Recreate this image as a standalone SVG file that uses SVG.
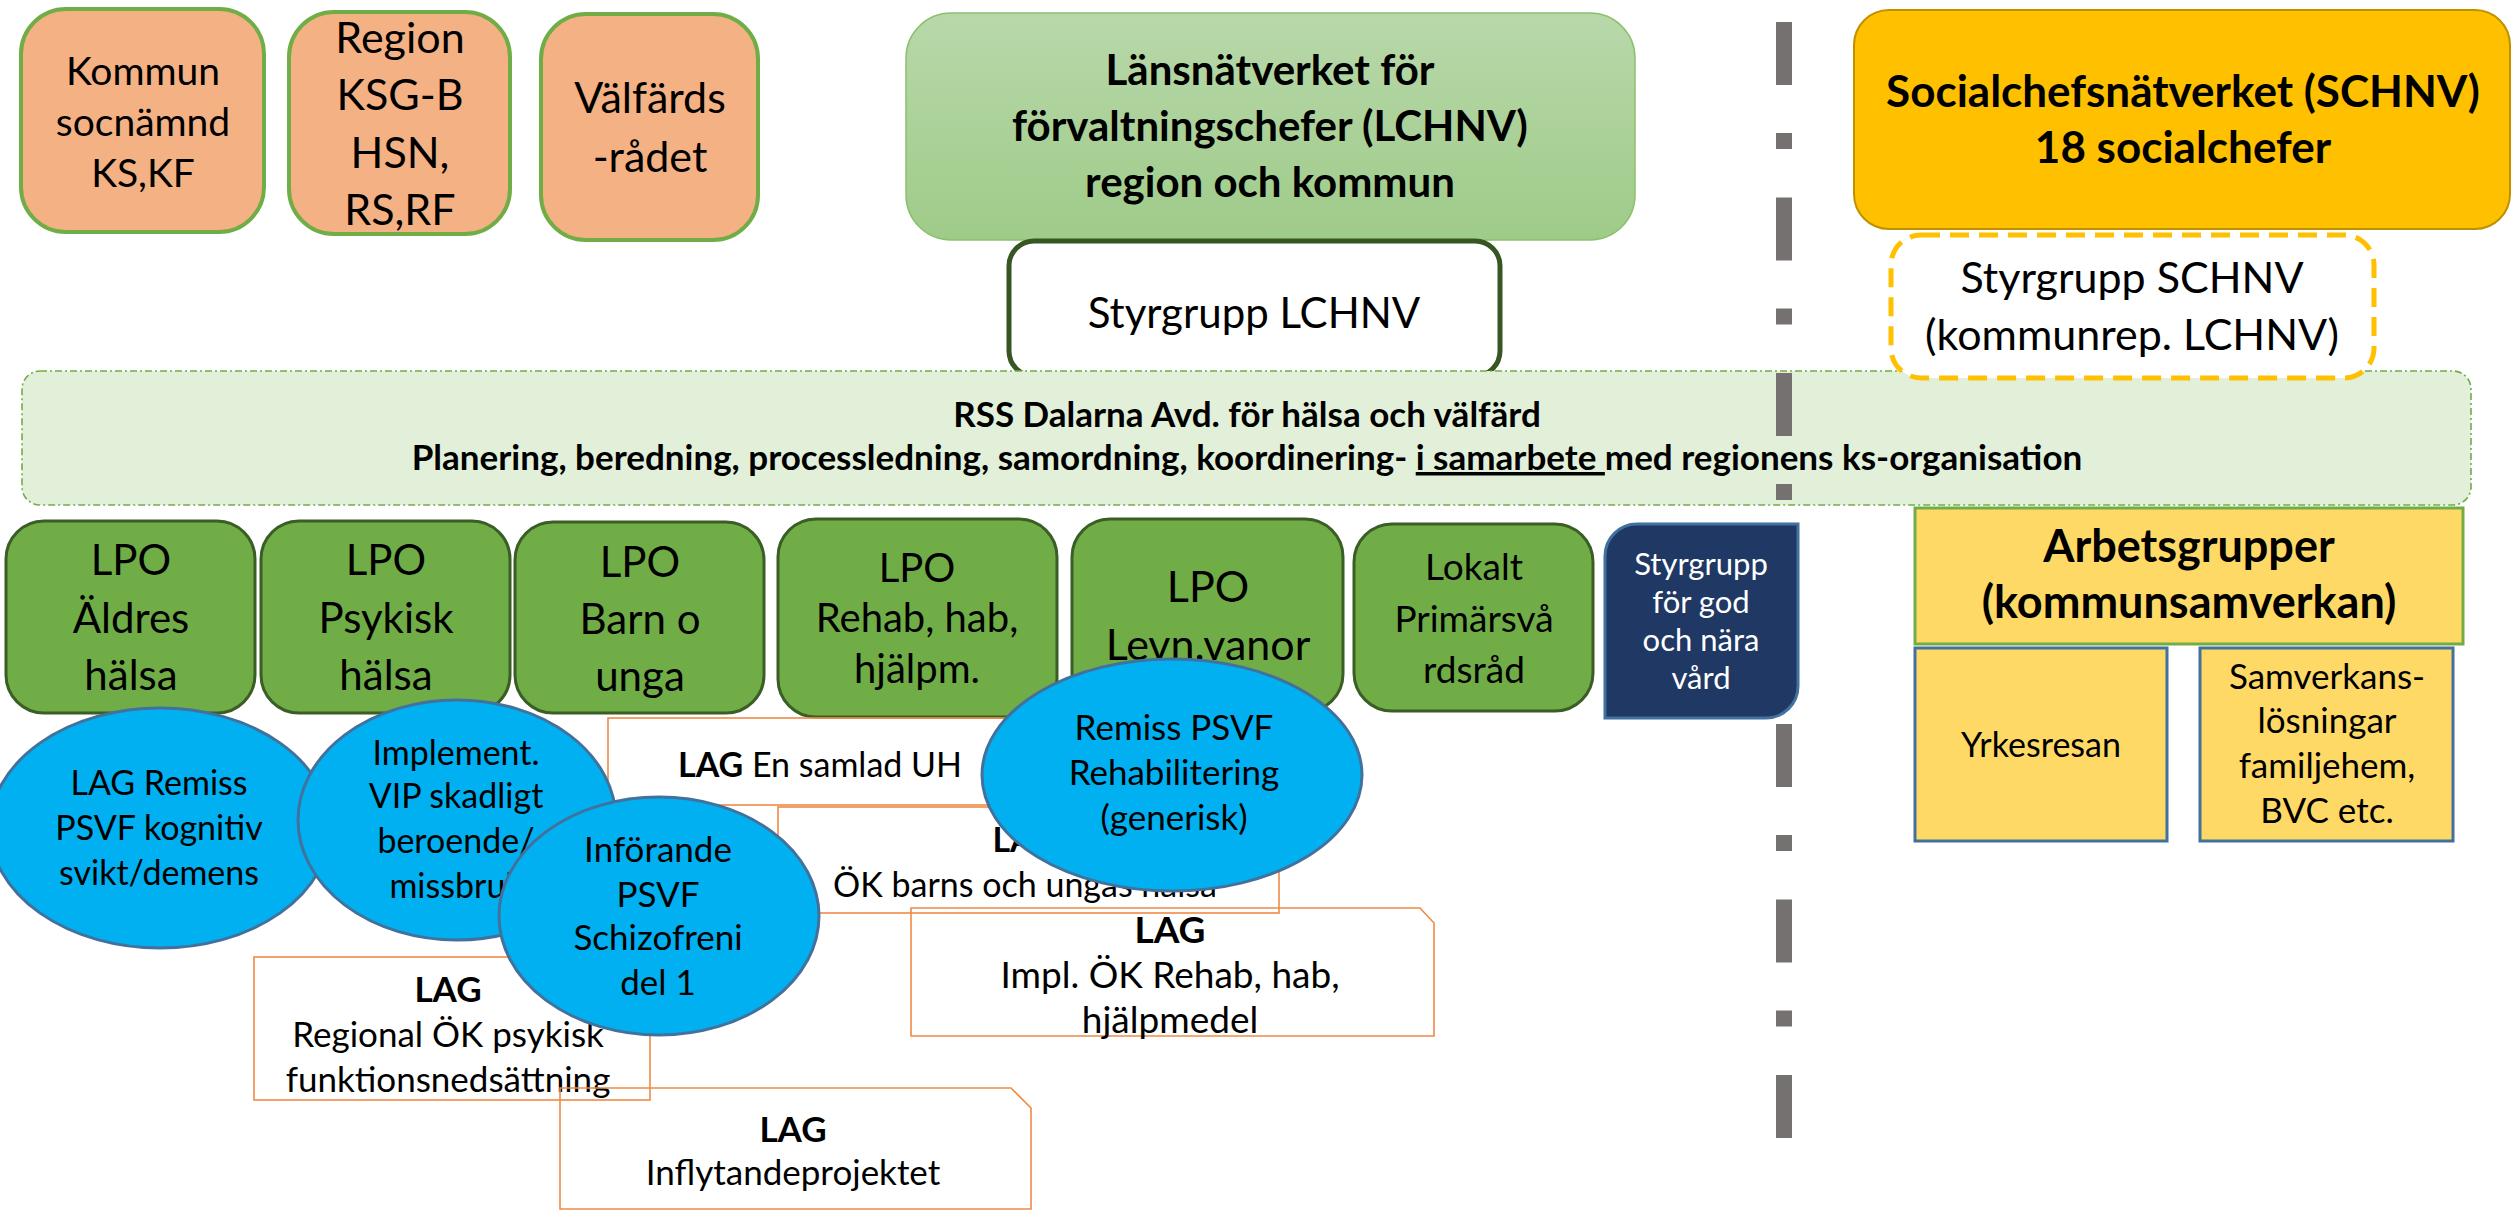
<svg xmlns="http://www.w3.org/2000/svg" width="2511" height="1215" viewBox="0 0 2511 1215">
<defs>
<linearGradient id="gLan" x1="0" y1="0" x2="0" y2="1">
<stop offset="0" stop-color="#B8D8AA"/>
<stop offset="1" stop-color="#9FCB89"/>
</linearGradient>
<style>
text{font-family:Lato,"Liberation Sans",sans-serif;fill:#000;text-anchor:middle}
.b{font-weight:bold}
.peach{fill:#F4B183;stroke:#70AD47;stroke-width:4}
.lpo{fill:#70AD47;stroke:#3A5E26;stroke-width:3}
.ell{fill:#00B0F0;stroke:#41719C;stroke-width:3}
.lag{fill:none;stroke:#F08A45;stroke-width:1.6}
.yel{fill:#FFD966;stroke-width:3}
.t43{font-size:43px}
.t42{font-size:42px}
.t40{font-size:40px}
.t37{font-size:37px}
.t34{font-size:34px}
.t35{font-size:35px}
.t31{font-size:31px}
</style>
</defs>
<rect width="2511" height="1215" fill="#fff"/>

<g id="kommun">
<rect class="peach" x="21" y="9" width="243" height="223" rx="45"/>
<text font-size="39" x="143" y="85">Kommun</text>
<text font-size="39" x="143" y="136">socnämnd</text>
<text font-size="39" x="143" y="187">KS,KF</text>
</g>
<g id="region">
<rect class="peach" x="289" y="12" width="221" height="222" rx="45"/>
<text class="t43" x="400" y="53">Region</text>
<text class="t43" x="400" y="110">KSG-B</text>
<text class="t43" x="400" y="168">HSN,</text>
<text class="t43" x="400" y="225">RS,RF</text>
</g>
<g id="valfardsradet">
<rect class="peach" x="541" y="14" width="217" height="226" rx="45"/>
<text class="t43" x="650" y="113">Välfärds</text>
<text class="t43" x="650" y="172">-rådet</text>
</g>

<g id="lchnv">
<rect x="906" y="13" width="729" height="227" rx="45" fill="url(#gLan)" stroke="#8DC06C" stroke-width="1.5"/>
<text class="b" x="1270" y="85" font-size="42">Länsnätverket för</text>
<text class="b" x="1270" y="141" font-size="42">förvaltningschefer (LCHNV)</text>
<text class="b" x="1270" y="197" font-size="42">region och kommun</text>
</g>
<g id="styrgrupp-lchnv">
<rect x="1009" y="241" width="491" height="135" rx="25" fill="#fff" stroke="#375623" stroke-width="5"/>
<text class="t42" x="1254" y="328">Styrgrupp LCHNV</text>
</g>

<g id="schnv">
<rect x="1854" y="10" width="656" height="219" rx="35" fill="#FFC000" stroke="#BF9000" stroke-width="2"/>
<text class="b" x="2183" y="107" font-size="44">Socialchefsnätverket (SCHNV)</text>
<text class="b" x="2183" y="163" font-size="44">18 socialchefer</text>
</g>

<g id="rss">
<rect x="22" y="371" width="2449" height="134" rx="18" fill="#E2F0D9" stroke="#70AD47" stroke-width="1.6" stroke-dasharray="7 3 2 3"/>
<text class="b" x="1247" y="427" font-size="35">RSS Dalarna Avd. för hälsa och välfärd</text>
<text class="b" x="1247" y="470" font-size="35">Planering, beredning, processledning, samordning, koordinering- <tspan text-decoration="underline">i samarbete </tspan>med regionens ks-organisation</text>
</g>

<g id="styrgrupp-schnv">
<rect x="1891" y="235" width="483" height="143" rx="30" fill="#fff" stroke="#FFC000" stroke-width="5" stroke-dasharray="19 10"/>
<text class="t43" x="2132" y="293">Styrgrupp SCHNV</text>
<text class="t43" x="2132" y="350">(kommunrep. LCHNV)</text>
</g>

<g id="divider">
<line x1="1784" y1="22" x2="1784" y2="1141" stroke="#767171" stroke-width="16" stroke-dasharray="63 48 16 48.5"/>
</g>

<g id="lpo-aldres">
<rect class="lpo" x="6" y="521" width="249" height="192" rx="38"/>
<text class="t42" x="131" y="575">LPO</text>
<text class="t42" x="131" y="633">Äldres</text>
<text class="t42" x="131" y="690">hälsa</text>
</g>
<g id="lpo-psykisk">
<rect class="lpo" x="261" y="521" width="249" height="192" rx="38"/>
<text class="t42" x="386" y="575">LPO</text>
<text class="t42" x="386" y="633">Psykisk</text>
<text class="t42" x="386" y="690">hälsa</text>
</g>
<g id="lpo-barn">
<rect class="lpo" x="515" y="522" width="249" height="191" rx="38"/>
<text class="t42" x="640" y="577">LPO</text>
<text class="t42" x="640" y="634">Barn o</text>
<text class="t42" x="640" y="691">unga</text>
</g>
<g id="lpo-rehab">
<rect class="lpo" x="778" y="519" width="279" height="198" rx="38"/>
<text class="t40" x="917" y="582">LPO</text>
<text class="t40" x="917" y="632">Rehab, hab,</text>
<text class="t40" x="917" y="683">hjälpm.</text>
</g>
<g id="lpo-levnadsvanor">
<rect class="lpo" x="1072" y="519" width="271" height="193" rx="38"/>
<text font-size="43" x="1208" y="602">LPO</text>
<text font-size="43" x="1208" y="660">Levn.vanor</text>
</g>
<g id="lokalt-primarvardsrad">
<rect class="lpo" x="1354" y="524" width="239" height="187" rx="38"/>
<text class="t37" x="1474" y="580">Lokalt</text>
<text class="t37" x="1474" y="632">Primärsvå</text>
<text class="t37" x="1474" y="683">rdsråd</text>
</g>
<g id="styrgrupp-god-nara-vard">
<path d="M1605,718 L1605,556 A32,32 0 0 1 1637,524 L1798,524 L1798,686 A32,32 0 0 1 1766,718 Z" fill="#203864" stroke="#41719C" stroke-width="3"/>
<text class="t31" x="1701" y="575" style="fill:#fff">Styrgrupp</text>
<text class="t31" x="1701" y="613" style="fill:#fff">för god</text>
<text class="t31" x="1701" y="651" style="fill:#fff">och nära</text>
<text class="t31" x="1701" y="689" style="fill:#fff">vård</text>
</g>

<g id="arbetsgrupper">
<rect class="yel" x="1915" y="508" width="548" height="136" stroke="#70AD47"/>
<text class="b" x="2189" y="562" font-size="45">Arbetsgrupper</text>
<text class="b" x="2189" y="618" font-size="45">(kommunsamverkan)</text>
</g>
<g id="yrkesresan">
<rect class="yel" x="1915" y="648" width="252" height="193" stroke="#41719C"/>
<text class="t34" x="2041" y="757">Yrkesresan</text>
</g>
<g id="samverkanslosningar">
<rect class="yel" x="2200" y="648" width="253" height="193" stroke="#41719C"/>
<text class="t35" x="2327" y="689">Samverkans-</text>
<text class="t35" x="2327" y="733">lösningar</text>
<text class="t35" x="2327" y="778">familjehem,</text>
<text class="t35" x="2327" y="823">BVC etc.</text>
</g>

<g id="lag-samlad-uh">
<rect class="lag" x="608" y="718" width="424" height="87"/>
<text class="t34" x="820" y="777"><tspan class="b">LAG</tspan> En samlad UH</text>
</g>
<g id="lag-ok-barn">
<rect class="lag" x="778" y="807" width="501" height="106"/>
<text class="t34 b" x="1025" y="852">LAG</text>
<text class="t34" x="1025" y="897">ÖK barns och ungas hälsa</text>
</g>
<g id="lag-impl-ok-rehab">
<path class="lag" d="M911,908 L1420,908 L1434,923 L1434,1036 L911,1036 Z"/>
<text font-size="37" class="b" x="1170" y="943">LAG</text>
<text font-size="37" x="1170" y="988">Impl. ÖK Rehab, hab,</text>
<text font-size="37" x="1170" y="1033">hjälpmedel</text>
</g>
<g id="lag-regional-ok">
<rect class="lag" x="254" y="957" width="396" height="143"/>
<text class="t35 b" x="448" y="1002">LAG</text>
<text class="t35" x="448" y="1047">Regional ÖK psykisk</text>
<text class="t35" x="448" y="1092">funktionsnedsättning</text>
</g>
<g id="lag-inflytande">
<path class="lag" d="M560,1088 L1011,1088 L1031,1108 L1031,1209 L560,1209 Z"/>
<text class="t35 b" x="793" y="1142">LAG</text>
<text class="t35" x="793" y="1185">Inflytandeprojektet</text>
</g>

<g id="lag-remiss-kognitiv">
<ellipse class="ell" cx="160" cy="828" rx="170" ry="120"/>
<text class="t34" x="159" y="795">LAG Remiss</text>
<text class="t34" x="159" y="840">PSVF kognitiv</text>
<text class="t34" x="159" y="885">svikt/demens</text>
</g>
<g id="implement-vip">
<ellipse class="ell" cx="457" cy="820" rx="159" ry="120"/>
<text class="t34" x="456" y="765">Implement.</text>
<text class="t34" x="456" y="808">VIP skadligt</text>
<text class="t34" x="456" y="853">beroende/</text>
<text class="t34" x="456" y="898">missbruk</text>
</g>
<g id="inforande-schizofreni">
<ellipse class="ell" cx="659" cy="916" rx="160" ry="119"/>
<text class="t35" x="658" y="862">Införande</text>
<text class="t35" x="658" y="907">PSVF</text>
<text class="t35" x="658" y="950">Schizofreni</text>
<text class="t35" x="658" y="995">del 1</text>
</g>
<g id="remiss-rehabilitering">
<ellipse class="ell" cx="1172" cy="775" rx="190" ry="116"/>
<text class="t35" x="1174" y="740">Remiss PSVF</text>
<text class="t35" x="1174" y="785">Rehabilitering</text>
<text class="t35" x="1174" y="830">(generisk)</text>
</g>
</svg>
